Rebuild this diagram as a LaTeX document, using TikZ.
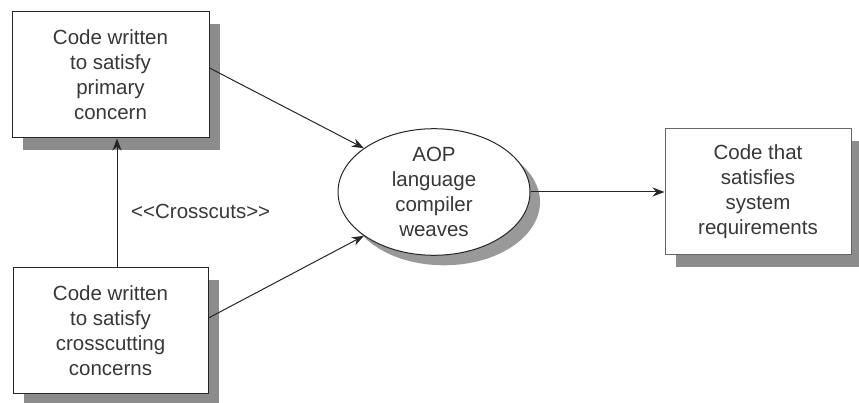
\documentclass[tikz,border=0pt]{standalone}
\usepackage{fontspec}
\setmainfont{Liberation Sans}
\usetikzlibrary{shapes.geometric,arrows.meta,shadows}
\begin{document}
\begin{tikzpicture}[x=1pt,y=-1pt,
  txt/.style={font=\fontsize{20.5}{25}\selectfont, text=black!78, align=center},
  box/.style={draw=black!85, line width=1pt, fill=white, txt,
    drop shadow={shadow xshift=11pt, shadow yshift=-12pt, fill=black!45, opacity=1}},
  ell/.style={ellipse, draw=black!85, line width=1pt, fill=white, txt, inner sep=0pt,
    drop shadow={shadow xshift=10pt, shadow yshift=-10pt, fill=black!40, opacity=1}},
  arr/.style={draw=black!85, line width=1pt, -{Stealth[length=12pt,width=9pt]}}]
\useasboundingbox (0,0) rectangle (859,403);
\node[box, minimum width=197pt, minimum height=126pt] (b1) at (110.5,75) {Code written\\to satisfy\\primary\\concern};
\node[box, minimum width=195pt, minimum height=125pt] (b2) at (110.5,330.5) {Code written\\to satisfy\\crosscutting\\concerns};
\node[ell, minimum width=192pt, minimum height=110pt] (e) at (434,192) {AOP\\language\\compiler\\weaves};
\node[box, minimum width=186pt, minimum height=126pt, draw=black!60] (b3) at (758,192) {Code that\\satisfies\\system\\requirements};
\draw[arr] (b1.east |- 0,68) -- (e.148);
\draw[arr] (b2.east |- 0,318) -- (e.212);
\draw[arr] (e.east) -- (b3.west);
\draw[arr] (b2.north -| 117,0) -- (b1.south -| 117,0);
\node[txt, anchor=west, inner sep=0pt] (lbl) at (131,211) {{<}{<}Crosscuts{>}{>}};
\end{tikzpicture}
\end{document}
